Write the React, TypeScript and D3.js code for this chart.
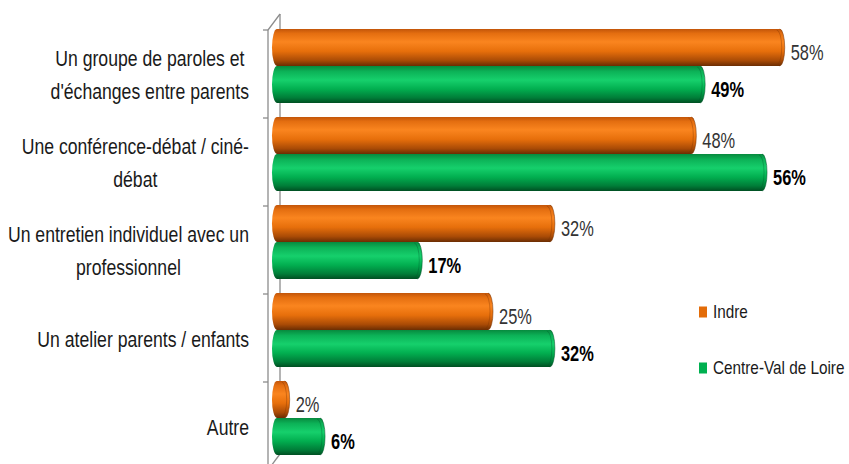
import React, { useEffect, useRef } from "react";
import * as d3 from "d3";

const categories: string[][] = [
  ["Un groupe de paroles et", "d'échanges entre parents"],
  ["Une conférence-débat / ciné-", "débat"],
  ["Un entretien individuel avec un", "professionnel"],
  ["Un atelier parents / enfants"],
  ["Autre"],
];
const indre = [58, 48, 32, 25, 2];
const centre = [49, 56, 17, 32, 6];
const seriesNames = ["Indre", "Centre-Val de Loire"];

const W = 849;
const H = 464;
const FONT = "'Liberation Sans', Arial, sans-serif";

export default function App() {
  const ref = useRef<SVGSVGElement | null>(null);

  useEffect(() => {
    const svg = d3.select(ref.current!);
    svg.selectAll("*").remove();

    const x = d3.scaleLinear().domain([0, 60]).range([272, 802.4]);
    const y = d3
      .scaleBand<number>()
      .domain(d3.range(categories.length))
      .range([30, 470])
      .paddingInner(0)
      .paddingOuter(0);
    const barH = 37;

    const defs = svg.append("defs");
    const grads: { id: string; stops: [number, string][] }[] = [
      {
        id: "gOrange",
        stops: [
          [0, "#C25509"],
          [0.12, "#E46E10"],
          [0.35, "#FA851F"],
          [0.6, "#E76F0B"],
          [0.85, "#AA4B06"],
          [1, "#6B2D03"],
        ],
      },
      {
        id: "gGreen",
        stops: [
          [0, "#078A3E"],
          [0.15, "#0CB257"],
          [0.38, "#16D06C"],
          [0.62, "#02AF50"],
          [0.86, "#007D38"],
          [1, "#004F22"],
        ],
      },
    ];
    grads.forEach((g) => {
      const lg = defs
        .append("linearGradient")
        .attr("id", g.id)
        .attr("x1", 0)
        .attr("y1", 0)
        .attr("x2", 0)
        .attr("y2", 1);
      g.stops.forEach(([o, c]) => lg.append("stop").attr("offset", o).attr("stop-color", c));
    });

    // axis / walls
    const axisColor = "#8c8c8c";
    const front = 268;
    const back = 280;
    const top = y(0)!;
    const bottom = y.range()[1];
    const axisG = svg.append("g").attr("stroke", axisColor).attr("stroke-width", 1.3).attr("fill", "none");
    axisG.append("line").attr("x1", back).attr("x2", back).attr("y1", top - 16).attr("y2", bottom - 16);
    axisG.append("line").attr("x1", front).attr("x2", back).attr("y1", top).attr("y2", top - 16);
    axisG.append("line").attr("x1", front).attr("x2", back).attr("y1", bottom).attr("y2", bottom - 16);
    axisG.append("line").attr("x1", front).attr("x2", front).attr("y1", top).attr("y2", bottom);
    const ticks = d3.range(categories.length + 1).map((i) => top + i * y.step());
    axisG
      .selectAll("line.tick")
      .data(ticks)
      .join("line")
      .attr("class", "tick")
      .attr("x1", front - 5)
      .attr("x2", front)
      .attr("y1", (d) => d)
      .attr("y2", (d) => d);

    const r = 5;
    const cyl = (x0: number, x1: number, yy: number, h: number) => {
      const w = Math.max(x1 - x0, r * 2);
      const xa = x0 + r;
      const xb = x0 + w - r;
      return `M${xa},${yy} L${xb},${yy} A${r},${h / 2} 0 0 1 ${xb},${yy + h} L${xa},${yy + h} A${r},${h / 2} 0 0 1 ${xa},${yy} Z`;
    };

    const series = [
      { vals: indre, grad: "gOrange", off: -1, edge: "#7a3403", bold: false, color: "#333333" },
      { vals: centre, grad: "gGreen", off: 36, edge: "#00582a", bold: true, color: "#000000" },
    ];

    const valSx = 0.73;
    series.forEach((s) => {
      const g = svg.append("g");
      s.vals.forEach((v, i) => {
        const yy = y(i)! + s.off;
        const x0 = x(0);
        const x1 = x(v);
        g.append("path").attr("d", cyl(x0, x1, yy, barH)).attr("fill", `url(#${s.grad})`);
        const xb = Math.max(x1, x0 + 2 * r) - r;
        g.append("path")
          .attr("d", `M${xb},${yy} A${r},${barH / 2} 0 0 1 ${xb},${yy + barH}`)
          .attr("fill", "none")
          .attr("stroke", s.edge)
          .attr("stroke-opacity", 0.55)
          .attr("stroke-width", 1);
        g.append("path")
          .attr("d", `M${xb - 3},${yy + 1} A${r},${barH / 2 - 1} 0 0 1 ${xb - 3},${yy + barH - 1}`)
          .attr("fill", "none")
          .attr("stroke", s.edge)
          .attr("stroke-opacity", 0.35)
          .attr("stroke-width", 1);
        g.append("g")
          .attr("transform", `translate(${Math.max(x1, x0 + 2 * r) + 6},${yy + barH / 2 + 5}) scale(${valSx},1)`)
          .append("text")
          .attr("dominant-baseline", "central")
          .attr("font-family", FONT)
          .attr("font-size", 22.5)
          .attr("font-weight", s.bold ? "bold" : "normal")
          .attr("fill", s.color)
          .text(`${v}%`);
      });
    });

    // category labels
    const lineH = 33;
    const labelRight = 249;
    const catSx = 0.82;
    const labG = svg.append("g").attr("font-family", FONT).attr("font-size", 21.5).attr("fill", "#1a1a1a");
    categories.forEach((lines, i) => {
      const cy = y(i)! + y.bandwidth() / 2 + 1;
      const groups = lines.map((ln, j) => {
        const gg = labG.append("g");
        const t = gg
          .append("text")
          .attr("dominant-baseline", "central")
          .attr("text-anchor", "middle")
          .text(ln);
        return { gg, t, yy: cy + (j - (lines.length - 1) / 2) * lineH };
      });
      const maxW =
        (d3.max(groups, (o) => (o.t.node() as SVGTextElement).getComputedTextLength()) || 0) * catSx;
      groups.forEach((o) =>
        o.gg.attr("transform", `translate(${labelRight - maxW / 2},${o.yy}) scale(${catSx},1)`)
      );
    });

    // legend
    const legY = [312, 368];
    const legColors = ["#E36C09", "#00B050"];
    const legSx = 0.85;
    const lg = svg.append("g").attr("font-family", FONT).attr("font-size", 18).attr("fill", "#1a1a1a");
    seriesNames.forEach((n, i) => {
      lg.append("rect").attr("x", 699).attr("y", legY[i] - 5.5).attr("width", 8).attr("height", 11).attr("fill", legColors[i]);
      lg.append("g")
        .attr("transform", `translate(713,${legY[i]}) scale(${legSx},1)`)
        .append("text")
        .attr("dominant-baseline", "central")
        .text(n);
    });
  }, []);

  return (
    <svg
      ref={ref}
      width={W}
      height={H}
      style={{ position: "absolute", left: 0, top: 0, background: "#ffffff" }}
    />
  );
}
